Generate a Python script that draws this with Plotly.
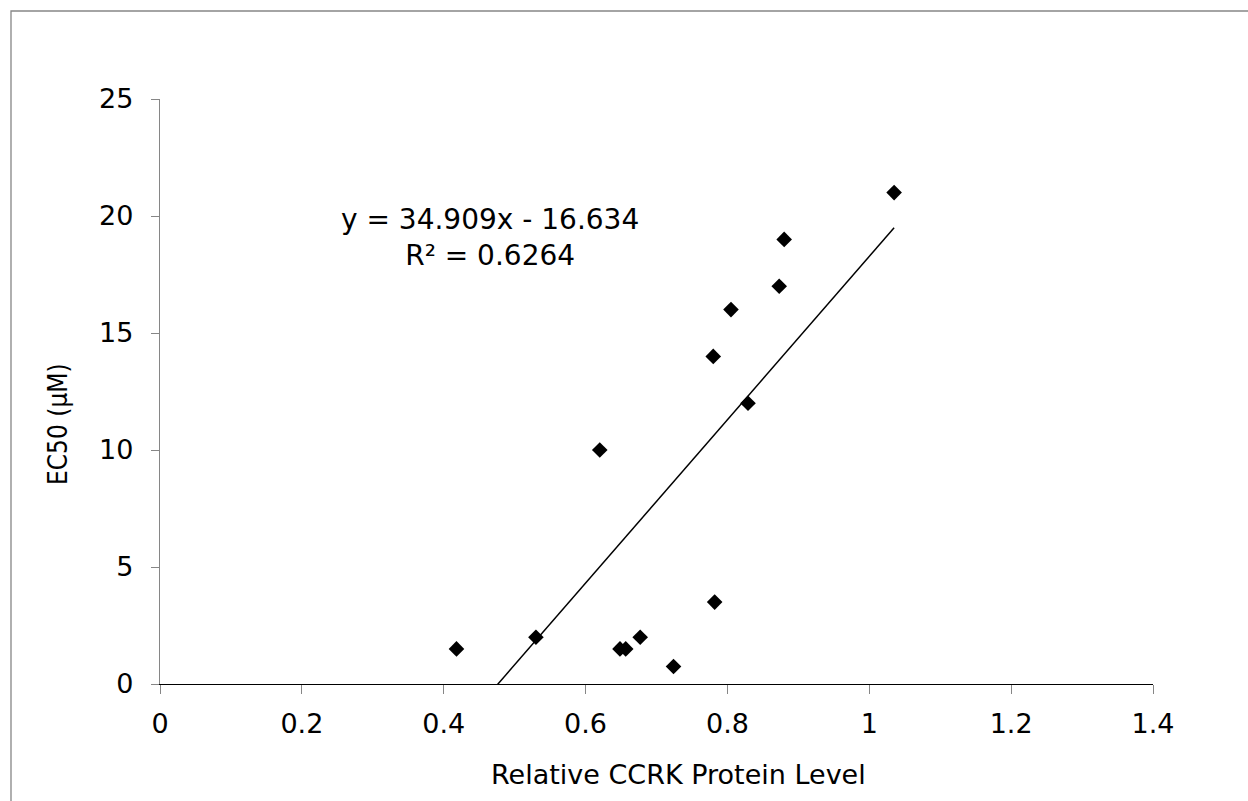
import plotly.graph_objects as go

# Data
protein_level = [0.418, 0.530, 0.620, 0.6485, 0.6566, 0.677, 0.724, 0.780, 0.782, 0.805, 0.829, 0.873, 0.880, 1.035]
ec50 = [1.5, 2.0, 10.0, 1.5, 1.5, 2.0, 0.75, 14.0, 3.5, 16.0, 12.0, 17.0, 19.0, 21.0]

slope = 34.909
intercept = -16.634
r_squared = 0.6264

x_ticks = [0, 0.2, 0.4, 0.6, 0.8, 1.0, 1.2, 1.4]
x_tick_labels = ["0", "0.2", "0.4", "0.6", "0.8", "1", "1.2", "1.4"]
y_ticks = [0, 5, 10, 15, 20, 25]

x_title = "Relative CCRK Protein Level"
y_title = "EC50 (µM)"

FONT = "DejaVu Sans, Verdana, sans-serif"

trend_x = [min(protein_level), max(protein_level)]
trend_y = [slope * v + intercept for v in trend_x]

fig = go.Figure()
fig.add_trace(go.Scatter(
    x=protein_level, y=ec50, mode="markers",
    marker=dict(symbol="diamond", size=12, color="black", line=dict(width=0)),
    cliponaxis=False, showlegend=False, hoverinfo="x+y",
))
fig.add_trace(go.Scatter(
    x=trend_x, y=trend_y, mode="lines",
    line=dict(color="black", width=1.5),
    showlegend=False, hoverinfo="skip",
))

L, R, T, B = 160, 95, 99, 117
W, H = 1248, 801
pw, ph = W - L - R, H - T - B

def px_to_paper_x(px):
    return (px - L) / pw

def px_to_paper_y(py):
    return (H - B - py) / ph

fig.update_layout(
    width=W, height=H,
    margin=dict(l=L, r=R, t=T, b=B),
    paper_bgcolor="white", plot_bgcolor="white",
    font=dict(family=FONT, size=27, color="black"),
    xaxis=dict(
        range=[0, 1.4], tickvals=x_ticks, ticktext=x_tick_labels,
        showgrid=False, zeroline=False,
        showline=True, linecolor="black", linewidth=1,
        ticks="outside", ticklen=9, tickcolor="#868686", tickwidth=1,
        ticklabelstandoff=7,
        tickfont=dict(size=27, family=FONT), fixedrange=True,
    ),
    yaxis=dict(
        range=[0, 25], tickvals=y_ticks,
        showgrid=False, zeroline=False,
        showline=True, linecolor="#868686", linewidth=1.3,
        ticks="outside", ticklen=8, tickcolor="#868686", tickwidth=1,
        ticklabelstandoff=12,
        tickfont=dict(size=27, family=FONT), fixedrange=True,
    ),
    annotations=[
        dict(text=x_title, xref="paper", yref="paper",
             x=px_to_paper_x(678), y=px_to_paper_y(775),
             xanchor="center", yanchor="middle", showarrow=False,
             font=dict(size=27, family=FONT)),
        dict(text=y_title, xref="paper", yref="paper",
             x=px_to_paper_x(58), y=px_to_paper_y(424),
             xanchor="center", yanchor="middle", showarrow=False, textangle=-90,
             font=dict(size=26, family="DejaVu Sans Condensed, DejaVu Sans, sans-serif")),
        dict(text=f"y = {slope}x - {abs(intercept)}<br>R² = {r_squared}",
             xref="paper", yref="paper",
             x=px_to_paper_x(490), y=px_to_paper_y(237),
             xanchor="center", yanchor="middle", align="center", showarrow=False,
             font=dict(size=28, family=FONT)),
    ],
    shapes=[
        dict(type="rect", xref="paper", yref="paper",
             x0=px_to_paper_x(11), x1=px_to_paper_x(1300),
             y0=px_to_paper_y(900), y1=px_to_paper_y(11),
             line=dict(color="#868686", width=1.3), fillcolor="rgba(0,0,0,0)", layer="below"),
    ],
)

fig.write_html(
    "out.html",
    config={"displayModeBar": False},
    post_script="document.body.style.margin='0';document.body.style.overflow='hidden';",
)
